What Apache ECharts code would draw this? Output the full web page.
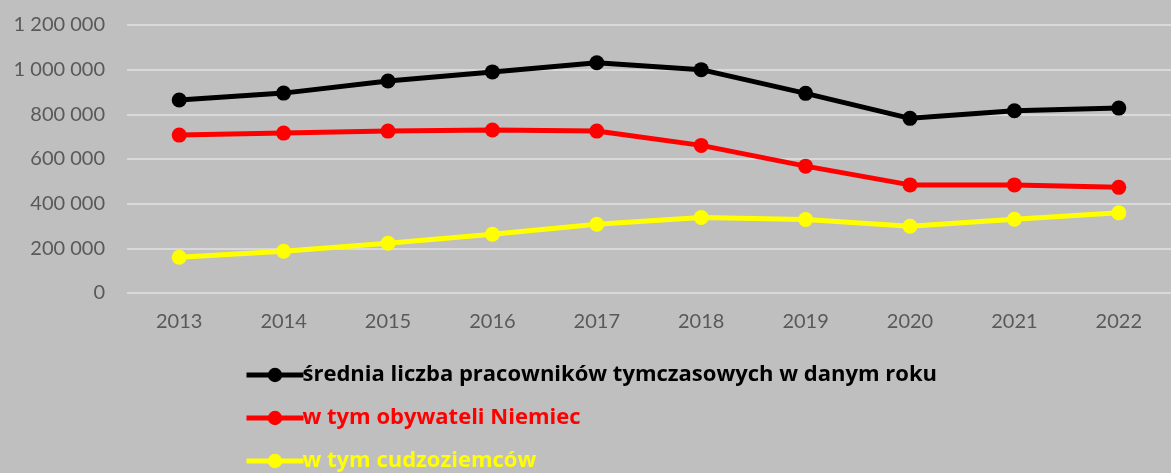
<!DOCTYPE html>
<html>
<head>
<meta charset="utf-8">
<script src="https://cdn.jsdelivr.net/npm/echarts@6/dist/echarts.min.js"></script>
<style>
  html, body { margin: 0; padding: 0; background: #bfbfbf; }
  #chart { width: 1171px; height: 473px; }
</style>
</head>
<body>
<div id="chart"></div>
<script>
const years = ['2013', '2014', '2015', '2016', '2017', '2018', '2019', '2020', '2021', '2022']
const total = [864000, 895000, 949000, 990000, 1031000, 1000000, 894000, 782000, 816000, 828000]
const german = [707000, 716000, 725000, 730000, 725000, 661000, 568000, 484000, 484000, 473000]
const foreign = [160000, 187000, 223000, 263000, 308000, 338000, 329000, 299000, 330000, 359000]
const names = [
  'średnia liczba pracowników tymczasowych w danym roku',
  'w tym obywateli Niemiec',
  'w tym cudzoziemców'
]
const colors = ['#000000', '#ff0000', '#ffff00']

const fontFamily = 'Lato, "Open Sans", sans-serif'
const chart = echarts.init(document.getElementById('chart'))

const makeSeries = (name, data, color) => ({
  name,
  type: 'line',
  data,
  symbol: 'circle',
  symbolSize: 15,
  lineStyle: { color, width: 5 },
  itemStyle: { color },
  z: 3
})

chart.setOption({
  backgroundColor: '#bfbfbf',
  animation: false,
  grid: { left: 127, top: 25, width: 1047, height: 268 },
  legend: {
    orient: 'vertical',
    left: 239,
    top: 359,
    height: 200,
    itemWidth: 57,
    itemHeight: 18,
    itemGap: 21,
    lineStyle: { width: 5 },
    data: names.map((n, i) => ({
      name: n,
      textStyle: { color: colors[i] }
    })),
    textStyle: {
      fontFamily: '"Open Sans", Lato, sans-serif',
      fontSize: 22,
      lineHeight: 22,
      fontWeight: 'bold',
      padding: [0, 0, 0, -6]
    }
  },
  xAxis: {
    type: 'category',
    data: years,
    boundaryGap: true,
    axisLine: { show: false },
    axisTick: { show: false },
    axisLabel: { color: '#595959', fontFamily, fontSize: 20, margin: 19 }
  },
  yAxis: {
    type: 'value',
    min: 0,
    max: 1200000,
    interval: 200000,
    axisLine: { show: false },
    axisTick: { show: false },
    splitLine: { lineStyle: { color: '#d9d9d9', width: 2 } },
    axisLabel: {
      color: '#595959',
      fontFamily,
      fontSize: 20,
      margin: 22,
      formatter: v => String(v).replace(/\B(?=(\d{3})+(?!\d))/g, ' ')
    }
  },
  series: [
    makeSeries(names[0], total, colors[0]),
    makeSeries(names[1], german, colors[1]),
    makeSeries(names[2], foreign, colors[2])
  ]
})
</script>
</body>
</html>
